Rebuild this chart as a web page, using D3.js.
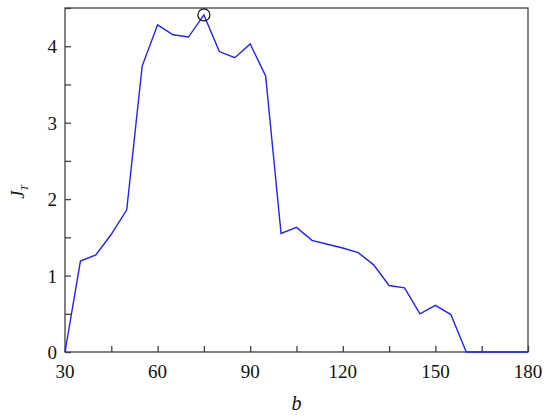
<!DOCTYPE html>
<html>
<head>
<meta charset="utf-8">
<title>J_T vs b</title>
<script src="https://cdn.jsdelivr.net/npm/d3@7"></script>
<style>
  body { margin: 0; background: #fff; }
  text { font-family: "Liberation Serif", "Times New Roman", serif; }
</style>
</head>
<body>
<script>
// data
var bValues = [30, 35, 40, 45, 50, 55, 60, 65, 70, 75, 80, 85, 90, 95, 100, 105, 110, 115, 120, 125,
               130, 135, 140, 145, 150, 155, 160, 165, 170, 175, 180];
var jtValues = [0, 1.19, 1.27, 1.54, 1.86, 3.74, 4.28, 4.15, 4.12, 4.41, 3.93, 3.85, 4.03, 3.61, 1.55, 1.63, 1.46, 1.41, 1.36, 1.30,
                1.14, 0.87, 0.84, 0.50, 0.61, 0.49, 0, 0, 0, 0, 0];
var xTicks = [30, 60, 90, 120, 150, 180];
var yTicks = [0, 1, 2, 3, 4];
var peak = {b: 75, jt: 4.41};

var width = 550, height = 418;
var margin = {left: 65, right: 22, top: 8, bottom: 66};

var svg = d3.select("body").append("svg").attr("width", width).attr("height", height);

var x = d3.scaleLinear().domain([30, 180]).range([margin.left, width - margin.right]);
var y = d3.scaleLinear().domain([0, 4.5]).range([height - margin.bottom, margin.top]);

var axisColor = "#404040";

// frame
svg.append("rect")
    .attr("x", x(30)).attr("y", y(4.5))
    .attr("width", x(180) - x(30)).attr("height", y(0) - y(4.5))
    .attr("fill", "none").attr("stroke", axisColor).attr("stroke-width", 1.3);

// bottom axis, ticks pointing inward
var xAxis = svg.append("g").attr("transform", "translate(0," + y(0) + ")")
    .call(d3.axisTop(x).tickValues(d3.range(30, 181, 15)).tickSize(6).tickFormat(""));
xAxis.select(".domain").remove();
xAxis.selectAll("line").attr("stroke", axisColor).attr("stroke-width", 1.3);
svg.selectAll(".xlab").data(xTicks).enter().append("text")
    .attr("x", function(d) { return x(d); })
    .attr("y", y(0) + 26)
    .attr("text-anchor", "middle").attr("font-size", 19).attr("fill", "#111")
    .text(function(d) { return d; });

// left axis
var yAxis = svg.append("g").attr("transform", "translate(" + x(30) + ",0)")
    .call(d3.axisRight(y).tickValues(d3.range(0, 4.51, 0.5)).tickSize(6).tickFormat(""));
yAxis.select(".domain").remove();
yAxis.selectAll("line").attr("stroke", axisColor).attr("stroke-width", 1.3);
svg.selectAll(".ylab").data(yTicks).enter().append("text")
    .attr("x", x(30) - 8)
    .attr("y", function(d) { return y(d) + 7; })
    .attr("text-anchor", "end").attr("font-size", 19).attr("fill", "#111")
    .text(function(d) { return d; });

// the curve
var line = d3.line()
    .x(function(d, i) { return x(bValues[i]); })
    .y(function(d) { return y(d); });
svg.append("path").datum(jtValues)
    .attr("d", line)
    .attr("fill", "none").attr("stroke", "#2323f5").attr("stroke-width", 1.4);

// peak marker
svg.append("circle")
    .attr("cx", x(peak.b)).attr("cy", y(peak.jt)).attr("r", 6)
    .attr("fill", "none").attr("stroke", "#111").attr("stroke-width", 1.2);

// axis titles
svg.append("text")
    .attr("x", (x(30) + x(180)) / 2).attr("y", height - 8)
    .attr("text-anchor", "middle").attr("font-size", 20).attr("font-style", "italic").attr("fill", "#111")
    .text("b");

var yTitle = svg.append("text")
    .attr("transform", "translate(24,192) rotate(-90)")
    .attr("text-anchor", "middle").attr("font-size", 18).attr("font-style", "italic").attr("fill", "#111");
yTitle.append("tspan").text("J");
yTitle.append("tspan").attr("font-size", 10).attr("dy", 4).text("T");
</script>
</body>
</html>
